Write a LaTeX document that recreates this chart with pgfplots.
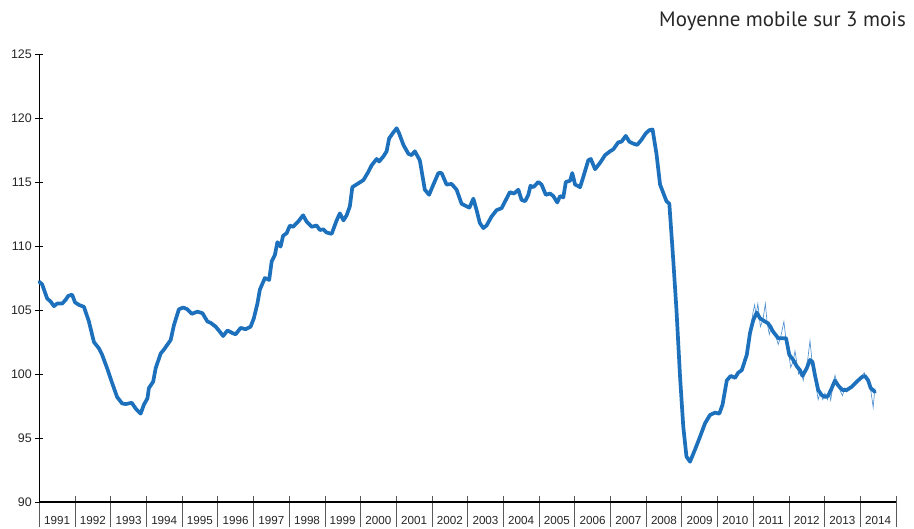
\documentclass[border=0pt]{standalone}
\usepackage{pgfplots}
\pgfplotsset{compat=1.18}
\usepackage{fontspec}
\setmainfont{Liberation Sans}
\newfontfamily\titlefont{PT Sans}
\definecolor{lineblue}{RGB}{29,113,188}
\definecolor{thinblue}{RGB}{80,145,208}
\pgfplotstableread{
x y
1991.00 107.2
1991.08 107.0
1991.22 105.9
1991.32 105.65
1991.41 105.3
1991.50 105.5
1991.64 105.5
1991.74 105.8
1991.81 106.1
1991.92 106.2
1992.00 105.6
1992.11 105.4
1992.25 105.25
1992.39 104.1
1992.53 102.5
1992.67 102.0
1992.76 101.5
1992.90 100.45
1993.04 99.3
1993.18 98.2
1993.32 97.7
1993.42 97.65
1993.59 97.75
1993.70 97.3
1993.84 96.9
1993.93 97.6
1994.03 98.1
1994.07 98.9
1994.19 99.4
1994.26 100.45
1994.40 101.6
1994.49 101.9
1994.59 102.3
1994.68 102.65
1994.77 103.8
1994.91 105.05
1995.03 105.2
1995.15 105.05
1995.27 104.7
1995.43 104.87
1995.57 104.75
1995.71 104.1
1995.80 104.0
1995.94 103.7
1996.03 103.4
1996.15 102.97
1996.27 103.4
1996.41 103.2
1996.50 103.1
1996.64 103.6
1996.78 103.5
1996.92 103.7
1997.01 104.35
1997.11 105.5
1997.18 106.6
1997.32 107.5
1997.44 107.35
1997.51 108.8
1997.60 109.3
1997.67 110.3
1997.76 109.95
1997.83 110.8
1997.93 111.0
1998.02 111.6
1998.11 111.5
1998.25 111.9
1998.39 112.4
1998.49 111.9
1998.63 111.5
1998.77 111.6
1998.86 111.25
1998.96 111.3
1999.05 111.05
1999.19 110.95
1999.33 112.0
1999.42 112.55
1999.52 112.0
1999.61 112.4
1999.70 113.1
1999.77 114.6
1999.94 114.9
2000.08 115.15
2000.22 115.8
2000.31 116.3
2000.45 116.8
2000.52 116.6
2000.64 117.0
2000.73 117.4
2000.80 118.4
2000.90 118.8
2001.01 119.2
2001.08 118.8
2001.20 117.9
2001.34 117.2
2001.43 117.1
2001.52 117.4
2001.66 116.7
2001.80 114.4
2001.92 114.0
2002.04 114.8
2002.18 115.7
2002.27 115.7
2002.41 114.8
2002.55 114.85
2002.69 114.4
2002.83 113.3
2002.97 113.1
2003.05 113.0
2003.16 113.7
2003.25 112.8
2003.34 111.8
2003.44 111.4
2003.53 111.6
2003.67 112.3
2003.81 112.8
2003.95 112.95
2004.07 113.6
2004.18 114.2
2004.30 114.1
2004.42 114.4
2004.51 113.6
2004.61 113.5
2004.70 114.0
2004.76 114.7
2004.84 114.6
2004.98 115.0
2005.07 114.8
2005.19 114.0
2005.31 114.1
2005.40 113.9
2005.51 113.4
2005.59 113.9
2005.68 113.8
2005.75 115.0
2005.87 115.1
2005.93 115.7
2006.01 114.8
2006.15 114.6
2006.24 115.4
2006.38 116.7
2006.45 116.8
2006.57 116.0
2006.71 116.5
2006.85 117.1
2006.99 117.4
2007.08 117.55
2007.22 118.1
2007.31 118.15
2007.43 118.6
2007.53 118.15
2007.64 118.0
2007.75 117.9
2007.87 118.3
2007.99 118.8
2008.09 119.05
2008.18 119.1
2008.29 117.2
2008.39 114.8
2008.57 113.5
2008.65 113.3
2008.76 108.9
2008.85 105.0
2008.95 99.8
2009.04 95.9
2009.13 93.55
2009.23 93.15
2009.37 94.1
2009.51 95.1
2009.65 96.15
2009.79 96.8
2009.93 96.98
2010.05 96.9
2010.14 97.6
2010.26 99.5
2010.37 99.85
2010.49 99.7
2010.58 100.1
2010.68 100.3
2010.82 101.5
2010.91 103.2
2011.00 104.2
2011.10 104.8
2011.19 104.35
2011.33 104.1
2011.42 103.95
2011.56 103.3
2011.70 102.8
2011.80 102.8
2011.92 102.8
2012.01 101.5
2012.12 101.1
2012.22 100.6
2012.31 100.3
2012.38 99.85
2012.50 100.45
2012.59 101.1
2012.66 100.95
2012.73 99.9
2012.82 98.75
2012.92 98.35
2013.01 98.2
2013.10 98.3
2013.20 98.9
2013.29 99.5
2013.38 99.1
2013.50 98.75
2013.62 98.75
2013.76 99.0
2013.90 99.4
2014.04 99.75
2014.13 99.85
2014.22 99.5
2014.29 98.9
2014.41 98.6
}\avgdata
\pgfplotstableread{
x y
2010.75 100.9
2010.83 101.8
2010.92 103.4
2011.00 104.9
2011.04 105.4
2011.08 104.6
2011.13 105.5
2011.20 103.7
2011.27 104.2
2011.34 105.5
2011.39 104.0
2011.45 103.1
2011.52 103.8
2011.58 103.2
2011.64 102.9
2011.70 102.3
2011.77 102.9
2011.86 104.1
2011.92 102.6
2011.98 101.9
2012.05 100.5
2012.12 101.0
2012.17 101.8
2012.22 100.9
2012.27 100.0
2012.33 100.4
2012.40 99.5
2012.46 100.3
2012.53 101.2
2012.59 102.6
2012.64 101.2
2012.70 100.3
2012.76 99.0
2012.82 98.0
2012.88 98.6
2012.95 98.0
2013.01 98.5
2013.08 98.0
2013.13 98.5
2013.17 97.95
2013.23 99.0
2013.29 99.9
2013.35 99.3
2013.42 98.8
2013.50 98.3
2013.56 98.9
2013.62 98.6
2013.69 99.0
2013.76 98.9
2013.83 99.3
2013.90 99.5
2013.97 99.6
2014.04 99.9
2014.11 100.1
2014.17 99.6
2014.22 99.3
2014.28 98.9
2014.32 98.2
2014.36 97.4
2014.41 98.9
}\rawdata
\begin{document}
\begin{tikzpicture}
\useasboundingbox (0,0) rectangle (914bp,529bp);
\begin{axis}[
  at={(39.3bp,27bp)}, anchor=south west,
  scale only axis, width=856.7bp, height=448bp,
  xmin=1991, xmax=2015, ymin=90, ymax=125,
  enlargelimits=false,
  axis x line=bottom, axis y line=left,
  axis line style={-, line width=1.1bp, black},
  /pgf/number format/assume math mode=true,
  ytick={90,95,...,125},
  yticklabel style={font=\fontsize{12.5}{14}\selectfont, text=black!85},
  xtick={1991.5,1992.5,...,2014.5},
  xticklabels={1991,1992,1993,1994,1995,1996,1997,1998,1999,2000,2001,2002,2003,2004,2005,2006,2007,2008,2009,2010,2011,2012,2013,2014},
  xticklabel style={font=\fontsize{11.7}{13}\selectfont, text=black!85, yshift=-7bp},
  major x tick style={draw=none},
  minor xtick={1991,1992,...,2015},
  minor x tick style={yshift=-9.5bp, draw=black!65, line width=0.6bp},
  minor tick length=31bp,
  major tick length=8bp,
  tick align=center,
  major y tick style={line width=0.8bp, black},
  clip=false,
]
\addplot[thinblue, line width=0.65bp] table[x=x,y=y] {\rawdata};
\addplot[lineblue, line width=3.7bp, line join=round, line cap=round] table[x=x,y=y] {\avgdata};
\end{axis}
\node[anchor=base east, inner sep=0pt, font=\titlefont\fontsize{21}{24}\selectfont, text=black!85] at (906bp,502.3bp) {Moyenne mobile sur 3 mois};
\end{tikzpicture}
\end{document}
